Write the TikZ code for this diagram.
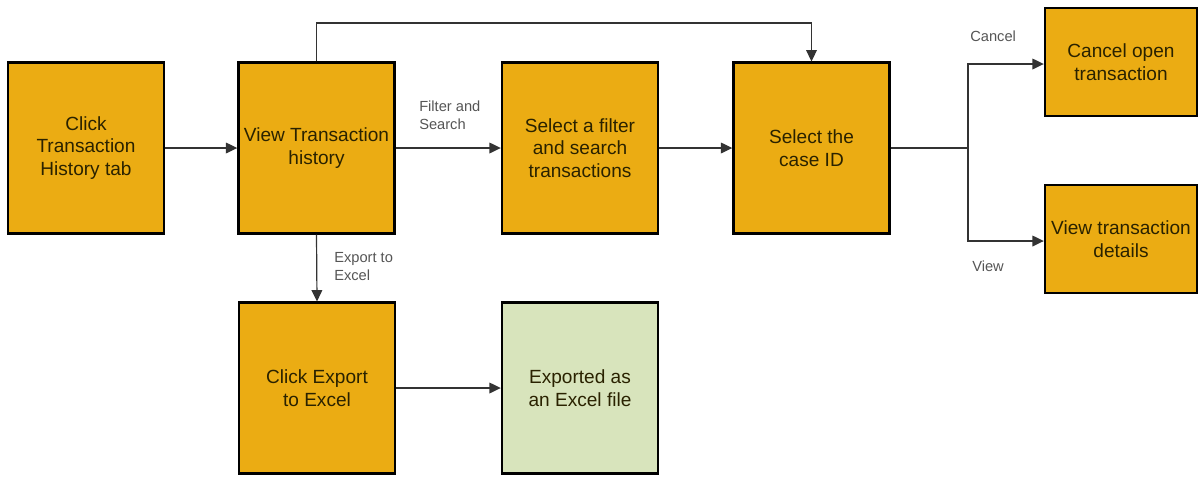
\documentclass[tikz,border=0pt]{standalone}
\usepackage{fontspec}
\setmainfont{Liberation Sans}
\usetikzlibrary{arrows.meta}
\definecolor{boxorange}{HTML}{EBAC13}
\definecolor{boxgreen}{HTML}{D8E4BC}
\definecolor{linegray}{HTML}{333333}
\definecolor{labelgray}{HTML}{555555}
\definecolor{boxtext}{HTML}{2A2200}
\tikzset{
  flowbox/.style={draw=black, line width=1.8pt, fill=boxorange, minimum width=117pt, minimum height=128pt, align=center, font=\fontsize{14.3}{17}\selectfont, text=boxtext, inner sep=1pt},
  smallbox/.style={flowbox, minimum height=81pt, minimum width=114pt},
  conn/.style={draw=linegray, line width=0.9pt, -{Triangle[length=8.5pt,width=8pt]}},
  plain/.style={draw=linegray, line width=0.9pt},
  lbl/.style={font=\fontsize{11}{13.5}\selectfont, text=labelgray, align=left, inner sep=0pt}
}
\begin{document}
\begin{tikzpicture}[x=0.75pt, y=-0.75pt]
\useasboundingbox (0,0) rectangle (1199,476);
\node[flowbox] (b1) at (86,148) {Click\\Transaction\\History tab};
\node[flowbox] (b2) at (316.5,148) {View Transaction\\history};
\node[flowbox] (b3) at (580,148) {Select a filter\\and search\\transactions};
\node[flowbox] (b4) at (811.5,148) {Select the\\case ID};
\node[smallbox] (b5) at (1121,62) {Cancel open\\transaction};
\node[smallbox] (b6) at (1121,239) {View transaction\\details};
\node[flowbox] (b7) at (317,388) {Click Export\\to Excel};
\node[flowbox, fill=boxgreen] (b8) at (580,388) {Exported as\\an Excel file};

\coordinate (top2) at (316.5,23);
\coordinate (top4) at (811.5,23);
\coordinate (fork) at (968,148);
\coordinate (forkup) at (968,64);
\coordinate (forkdn) at (968,241);

\draw[conn] (b1) -- (b2);
\draw[conn] (b2) -- (b3);
\draw[conn] (b3) -- (b4);
\draw[conn] (b2.north) -- (top2) -- (top4) -- (b4.north);
\draw[plain] (b4.east) -- (fork);
\draw[conn] (fork) -- (forkup) -- (b5.west |- forkup);
\draw[conn] (fork) -- (forkdn) -- (b6.west |- forkdn);
\draw[conn] (b2.south) -- (b7.north);
\draw[conn] (b7) -- (b8);

\node[lbl, anchor=north west] (l1) at (419,101) {Filter and\\Search};
\node[lbl, anchor=north west] (l2) at (334,252) {Export to\\Excel};
\node[lbl, anchor=north west] (l3) at (970,31) {Cancel};
\node[lbl, anchor=north west] (l4) at (972,261) {View};
\end{tikzpicture}
\end{document}
